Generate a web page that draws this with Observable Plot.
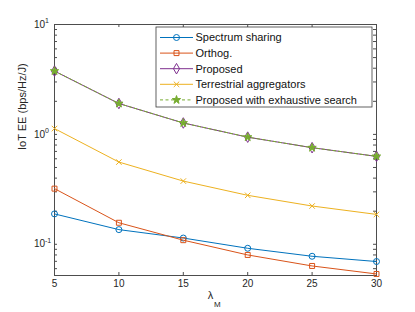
<!DOCTYPE html>
<html>
<head>
<meta charset="utf-8">
<script src="https://cdn.jsdelivr.net/npm/d3@7"></script>
<script src="https://cdn.jsdelivr.net/npm/@observablehq/plot@0.6"></script>
<style>
  html, body { margin: 0; padding: 0; background: #fff; }
  svg { display: block; }
</style>
</head>
<body>
<div id="chart"></div>
<script>
// ---- data ----
const lambdaM = [5, 10, 15, 20, 25, 30];
const spectrumSharing = [0.189, 0.136, 0.114, 0.092, 0.0778, 0.0697];
const orthog = [0.321, 0.157, 0.109, 0.080, 0.0635, 0.0537];
const proposed = [3.77, 1.91, 1.27, 0.944, 0.757, 0.631];
const terrestrial = [1.13, 0.56, 0.376, 0.279, 0.223, 0.187];
const proposedExhaustive = [3.77, 1.91, 1.27, 0.944, 0.757, 0.631];
const seriesNames = ["Spectrum sharing", "Orthog.", "Proposed", "Terrestrial aggregators", "Proposed with exhaustive search"];
const xTicks = [5, 10, 15, 20, 25, 30];
const yTicks = [0.1, 1, 10];
const yTickExponents = ["-1", "0", "1"];
const yMinorTicks = [0.06, 0.07, 0.08, 0.09, 0.2, 0.3, 0.4, 0.5, 0.6, 0.7, 0.8, 0.9, 2, 3, 4, 5, 6, 7, 8, 9];
const yLabel = "IoT EE (bps/Hz/J)";

// ---- styles ----
const colors = ["#0072BD", "#D95319", "#7E2F8E", "#EDB120", "#77AC30"];
const symbols = ["circle", "square", "diamond", "times", "star"];
const radii = [3, 2.8, 3.2, 2.6, 2.6];
const fills = ["none", "none", "none", "none", "#77AC30"];
const dashes = [null, null, null, null, "3,2.5"];
const allValues = [spectrumSharing, orthog, proposed, terrestrial, proposedExhaustive];

const W = 415, H = 312;
const mL = 54, mR = 39, mT = 24, mB = 37;
const pw = W - mL - mR, ph = H - mT - mB;
const font = "Liberation Sans, Arial, Helvetica, sans-serif";
const axisColor = "#262626";
const tk = 3;

const rows = allValues.map((vals, i) => lambdaM.map((x, j) => ({x, y: vals[j], s: i})));

const marks = [];
marks.push(Plot.frame({stroke: "#4d4d4d", strokeWidth: 1}));
marks.push(Plot.tickX(xTicks, {x: d => d, stroke: "#4d4d4d", insetTop: ph - tk}));
marks.push(Plot.tickX(xTicks, {x: d => d, stroke: "#4d4d4d", insetBottom: ph - tk}));
marks.push(Plot.tickY(yTicks.concat(yMinorTicks), {y: d => d, stroke: "#4d4d4d", insetRight: pw - tk}));
marks.push(Plot.tickY(yTicks.concat(yMinorTicks), {y: d => d, stroke: "#4d4d4d", insetLeft: pw - tk}));
rows.forEach((r, i) => {
  marks.push(Plot.line(r, {x: "x", y: "y", stroke: colors[i], strokeWidth: 1, strokeDasharray: dashes[i]}));
  marks.push(Plot.dot(r, {x: "x", y: "y", symbol: symbols[i], r: radii[i], stroke: colors[i], fill: fills[i], strokeWidth: 1}));
});
marks.push(Plot.text(xTicks, {x: d => d, frameAnchor: "bottom", dy: 11, text: d => String(d), fontSize: 10, fill: axisColor}));
marks.push(Plot.text(yTicks, {y: d => d, frameAnchor: "left", dx: -9.5, textAnchor: "end", text: d => "10", fontSize: 10, fill: axisColor}));
marks.push(Plot.text(yTicks, {y: d => d, frameAnchor: "left", dx: -9.5, dy: -4, textAnchor: "start", text: (d, i) => yTickExponents[i], fontSize: 7, fill: axisColor}));
marks.push(Plot.text([yLabel], {frameAnchor: "left", dx: -32, rotate: -90, text: d => d, fontSize: 11, fill: axisColor}));
marks.push(Plot.text(["λ"], {frameAnchor: "bottom", dx: -5, dy: 23, text: d => d, fontSize: 11, fill: axisColor}));
marks.push(Plot.text(["M"], {frameAnchor: "bottom", dx: 1.8, dy: 31, text: d => d, fontSize: 8, fill: axisColor}));

const chart = Plot.plot({
  width: W, height: H,
  marginLeft: mL, marginRight: mR, marginTop: mT, marginBottom: mB,
  style: {fontFamily: font, background: "#fff", overflow: "visible"},
  x: {domain: [5, 30], axis: null},
  y: {type: "log", domain: [0.052, 10], axis: null},
  marks
});
document.getElementById("chart").appendChild(chart);

// ---- legend ----
const svg = d3.select(chart);
const lg = svg.append("g").attr("class", "legend")
  .style("font-family", font).style("text-anchor", "start");
const bx = 156, by = 27, bw = 216, bh = 80;
lg.append("rect").attr("x", bx).attr("y", by).attr("width", bw).attr("height", bh)
  .style("fill", "#ffffff").style("stroke", "#3a3a3a").style("stroke-width", "0.8px");
const symMap = {circle: d3.symbolCircle, square: d3.symbolSquare, diamond: d3.symbolDiamond, times: d3.symbolTimes, star: d3.symbolStar};
seriesNames.forEach((name, i) => {
  const yy = 37.5 + i * 15.6;
  const ln = lg.append("line").attr("x1", 160).attr("x2", 193).attr("y1", yy).attr("y2", yy)
    .style("stroke", colors[i]).style("stroke-width", "1px");
  if (dashes[i]) ln.style("stroke-dasharray", dashes[i]);
  lg.append("path").attr("transform", `translate(176.5,${yy})`)
    .attr("d", d3.symbol(symMap[symbols[i]], Math.PI * radii[i] * radii[i])())
    .style("fill", fills[i]).style("stroke", colors[i]).style("stroke-width", "1px");
  lg.append("text").attr("x", 195.5).attr("y", yy).attr("dy", "0.35em")
    .style("font-size", "11px").style("fill", "#111").style("text-anchor", "start").text(name);
});
</script>
</body>
</html>
